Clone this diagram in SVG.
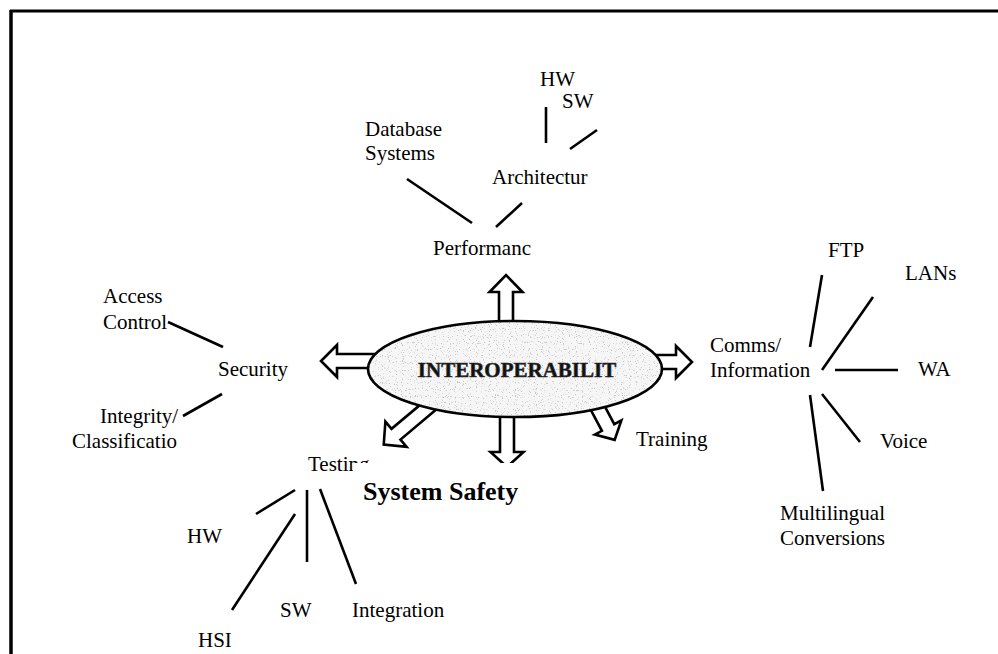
<svg xmlns="http://www.w3.org/2000/svg" width="998" height="654" viewBox="0 0 998 654">
  <style>
    .lbl { font-family: "Liberation Serif", "Times New Roman", serif; font-size: 21px; fill: #000; }
    .conn line { stroke: #000; stroke-width: 2.6; stroke-linecap: butt; }
    .blk { fill: #fff; stroke: #000; stroke-width: 2.6; stroke-linejoin: miter; }
    .mask { fill: #fff; stroke: none; }
  </style>
  <defs>
    <!-- speckled grain for the central ellipse -->
    <filter id="grain" x="0" y="0" width="100%" height="100%">
      <feTurbulence type="fractalNoise" baseFrequency="0.85" numOctaves="1" seed="7" result="noise"/>
      <feColorMatrix in="noise" type="matrix" values="0 0 0 0 0.55  0 0 0 0 0.55  0 0 0 0 0.55  9 0 0 0 -5.4" result="dots"/>
      <feComposite in="dots" in2="SourceGraphic" operator="in"/>
    </filter>
  </defs>

  <rect width="998" height="654" fill="#fff"/>

  <!-- frame: top and left rules -->
  <line x1="10" y1="11" x2="998" y2="11" stroke="#000" stroke-width="3"/>
  <line x1="11" y1="10" x2="11" y2="654" stroke="#000" stroke-width="3.5"/>

  <!-- block arrows radiating from the hub -->
  <g id="hub-arrows">
    <polygon class="blk" points="499,330 499,292 489.5,292 506,275 522.5,292 513,292 513,330"/>
    <polygon class="blk" points="380,354 337,354 337,345 321,361 337,377 337,368 380,368"/>
    <polygon class="blk" points="645,355 676,355 676,346 692,362 676,378 676,369 645,369"/>
    <polygon class="blk" points="500,405 500,452 490.5,452 507,467 523.5,452 514,452 514,405"/>
    <path class="blk" d="M0,-7 L47,-7 L47,-16.5 L63,0 L47,16.5 L47,7 L0,7 Z" transform="translate(432,404) rotate(140)"/>
    <path class="blk" d="M0,-7 L30,-7 L30,-15 L44,0 L30,15 L30,7 L0,7 Z" transform="translate(594,401) rotate(62)"/>
  </g>

  <!-- hub -->
  <g id="interoperability">
    <ellipse cx="515" cy="369" rx="147" ry="48" fill="#f6f6f6"/>
    <ellipse cx="515" cy="369" rx="147" ry="48" fill="#fff" filter="url(#grain)"/>
    <ellipse cx="515" cy="369" rx="147" ry="48" fill="none" stroke="#000" stroke-width="2.6"/>
    <text x="517" y="377" text-anchor="middle" font-family="Liberation Serif, Times New Roman, serif" font-size="21" font-weight="bold" fill="#111" stroke="#333" stroke-width="0.6">INTEROPERABILIT</text>
  </g>

  <!-- connectors -->
  <g class="conn" id="connectors">
    <!-- performance branch -->
    <line x1="407" y1="179" x2="472" y2="223"/>
    <line x1="522" y1="203" x2="496" y2="227"/>
    <line x1="546" y1="107" x2="546" y2="143"/>
    <line x1="570" y1="149" x2="597" y2="130"/>
    <!-- security branch -->
    <line x1="168" y1="322" x2="223" y2="347"/>
    <line x1="183" y1="416" x2="222" y2="394"/>
    <!-- testing branch -->
    <line x1="295" y1="490" x2="256" y2="514"/>
    <line x1="295" y1="514" x2="232" y2="610"/>
    <line x1="307" y1="490" x2="307" y2="562"/>
    <line x1="320" y1="489" x2="356" y2="584"/>
    <!-- comms branch -->
    <line x1="822" y1="275" x2="810" y2="347"/>
    <line x1="873" y1="297" x2="822" y2="370"/>
    <line x1="835" y1="370" x2="898" y2="370"/>
    <line x1="810" y1="395" x2="823" y2="491"/>
    <line x1="822" y1="394" x2="860" y2="442"/>
  </g>

  <!-- performance -->
  <g id="performance"><text class="lbl" x="433" y="255">Performanc</text></g>
  <g id="database"><text class="lbl" x="365" y="136">Database</text><text class="lbl" x="365" y="160">Systems</text></g>
  <g id="architecture"><text class="lbl" x="492" y="184">Architectur</text></g>
  <g id="arch-hw"><text class="lbl" x="540" y="86">HW</text></g>
  <g id="arch-sw"><text class="lbl" x="562" y="108">SW</text></g>

  <!-- security -->
  <g id="security"><text class="lbl" x="218" y="376">Security</text></g>
  <g id="access-control"><text class="lbl" x="103" y="303">Access</text><text class="lbl" x="103" y="329">Control</text></g>
  <g id="integrity"><text class="lbl" x="100" y="423">Integrity/</text><text class="lbl" x="72" y="448">Classificatio</text></g>

  <!-- testing -->
  <g id="testing">
    <rect class="mask" x="300" y="444" width="75" height="19"/>
    <text class="lbl" x="308" y="471">Testing</text>
  </g>
  <g id="system-safety">
    <rect class="mask" x="353" y="463" width="175" height="45"/>
    <text x="363" y="500" font-family="Liberation Serif, Times New Roman, serif" font-size="26" font-weight="bold">System Safety</text>
  </g>
  <g id="test-hw"><text class="lbl" x="187" y="543">HW</text></g>
  <g id="test-hsi"><text class="lbl" x="198" y="647">HSI</text></g>
  <g id="test-sw"><text class="lbl" x="280" y="617">SW</text></g>
  <g id="test-integration"><text class="lbl" x="352" y="617">Integration</text></g>

  <!-- training -->
  <g id="training"><text class="lbl" x="636" y="446">Training</text></g>

  <!-- comms -->
  <g id="comms"><text class="lbl" x="710" y="352">Comms/</text><text class="lbl" x="710" y="377">Information</text></g>
  <g id="ftp"><text class="lbl" x="828" y="257">FTP</text></g>
  <g id="lans"><text class="lbl" x="905" y="280">LANs</text></g>
  <g id="wan"><text class="lbl" x="918" y="376">WA</text></g>
  <g id="voice"><text class="lbl" x="880" y="448">Voice</text></g>
  <g id="multilingual"><text class="lbl" x="780" y="520">Multilingual</text><text class="lbl" x="780" y="545">Conversions</text></g>
</svg>
